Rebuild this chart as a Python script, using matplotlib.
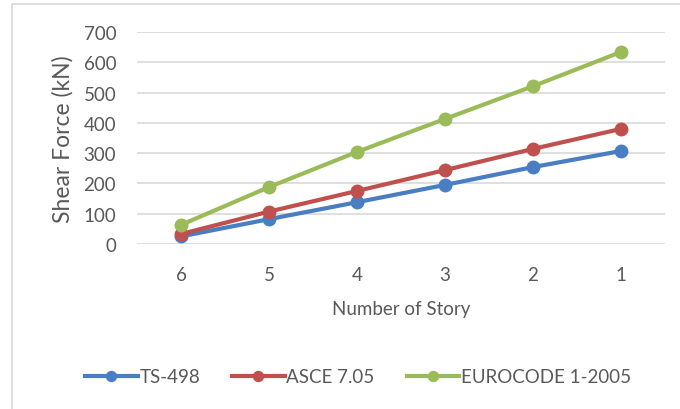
import matplotlib.pyplot as plt
from matplotlib.patches import Rectangle

plt.rcParams['font.family'] = ['Lato', 'DejaVu Sans']

stories = ['6', '5', '4', '3', '2', '1']
ts498 = [25, 82, 138, 195, 254, 307]
asce = [33, 107, 175, 244, 314, 380]
eurocode = [63, 188, 304, 413, 521, 634]

series = [
    ('TS-498', ts498, '#4A7EC2'),
    ('ASCE 7.05', asce, '#C0504D'),
    ('EUROCODE 1-2005', eurocode, '#9BBB59'),
]

fig = plt.figure(figsize=(6.8, 4.1), dpi=100)
# chart border
fig.patches.append(Rectangle((12 / 680, -0.1), 1.2, 1.1 - 5 / 410, transform=fig.transFigure,
                             fill=False, edgecolor='#D9D9D9', linewidth=1.2))

ax = fig.add_axes([137 / 680, 1 - 245 / 410, 528 / 680, 212 / 410])
x = range(len(stories))
for name, vals, col in series:
    ax.plot(x, vals, color=col, linewidth=3, marker='o', markersize=9, label=name)

ax.set_xlim(-0.5, 5.5)
ax.set_ylim(0, 700)
ax.set_yticks(range(0, 701, 100))
ax.set_xticks(list(x))
ax.set_xticklabels(stories)
ax.grid(axis='y', color='#D9D9D9', linewidth=1.2)
ax.set_axisbelow(True)
for s in ax.spines.values():
    s.set_visible(False)
ax.tick_params(length=0, labelsize=13.5, colors='#595959')
ax.tick_params(axis='y', pad=15)
ax.tick_params(axis='x', pad=16)
ax.set_ylabel('Shear Force (kN)', fontsize=16.5, color='#595959', labelpad=7)
ax.set_xlabel('Number of Story', fontsize=13.5, color='#595959', labelpad=12)

leg = fig.legend(loc='center', bbox_to_anchor=(358 / 680, 1 - 378 / 410), ncol=3, frameon=False,
                 fontsize=13.5, handlelength=2.8, columnspacing=1.7, handletextpad=0.1,
                 markerscale=0.8)
for t in leg.get_texts():
    t.set_color('#595959')

fig.savefig('out.png', dpi=100)
